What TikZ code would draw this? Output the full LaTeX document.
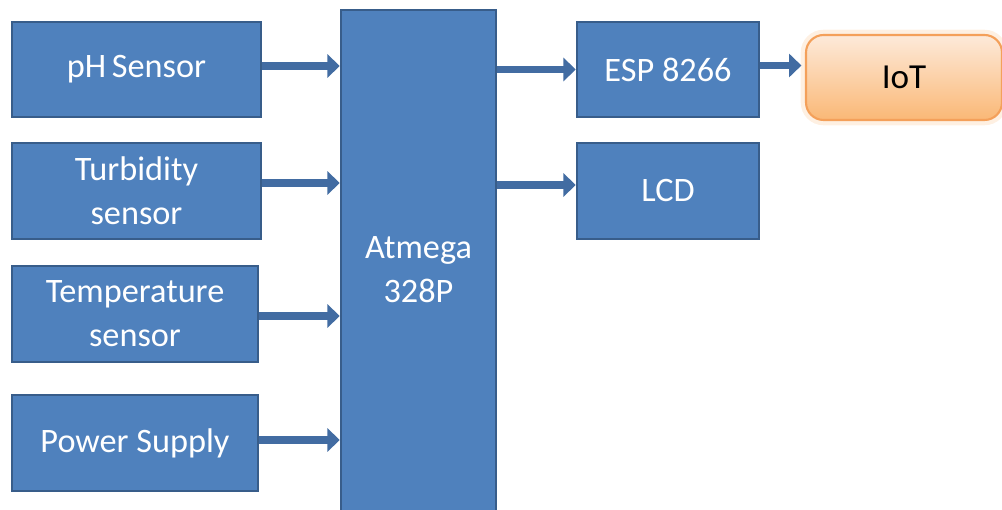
\documentclass[tikz,border=0pt]{standalone}
\usepackage{fontspec}
\setmainfont{Carlito}
\usepackage{tikz}
\usetikzlibrary{arrows.meta,shapes}
\definecolor{boxblue}{RGB}{79,129,189}
\definecolor{boxedge}{RGB}{56,93,138}
\definecolor{arrblue}{RGB}{66,108,162}
\definecolor{iottop}{RGB}{253,234,218}
\definecolor{iotbot}{RGB}{250,184,118}
\definecolor{iotedge}{RGB}{244,160,90}

\begin{document}
\begin{tikzpicture}[>=Stealth,
blk/.style={draw=boxedge,line width=1.4pt,fill=boxblue,text=white,align=center,font=\fontsize{19.5}{23}\selectfont,inner sep=0pt},
arr/.style={arrblue,line width=4.4pt,-{Triangle[length=7pt,width=13pt]}}]
\useasboundingbox (0,0) rectangle (20.04,-10.2);
\node[blk,minimum width=4.98cm,minimum height=1.9cm](ph) at (2.73,-1.39){pH\,Sensor};
\node[blk,minimum width=4.98cm,minimum height=1.92cm](turb) at (2.73,-3.82){Turbidity\\[2pt]sensor};
\node[blk,minimum width=4.92cm,minimum height=1.92cm](temp) at (2.70,-6.28){Temperature\\[2pt]sensor};
\node[blk,minimum width=4.92cm,minimum height=1.92cm](pwr) at (2.70,-8.86){Power Supply};
\node[blk,minimum width=3.1cm,minimum height=10.4cm](atm) at (8.37,-5.4){Atmega\\[2pt]328P};
\node[blk,minimum width=3.64cm,minimum height=1.9cm](esp) at (13.36,-1.39){ESP 8266};
\node[blk,minimum width=3.64cm,minimum height=1.92cm](lcd) at (13.36,-3.82){LCD};
\node[draw=iotedge,line width=1.2pt,rounded corners=10pt,top color=iottop,bottom color=iotbot,
minimum width=3.92cm,minimum height=1.7cm,font=\fontsize{20}{24}\selectfont,
preaction={draw=iotbot!60,line width=6pt,opacity=0.35}](iot) at (18.08,-1.55){IoT};
\draw[arr]([yshift=0.07cm]ph.east)--([yshift=0.07cm]ph.east-|atm.west);
\draw[arr]([yshift=0.16cm]turb.east)--([yshift=0.16cm]turb.east-|atm.west);
\draw[arr]([yshift=-0.04cm]temp.east)--([yshift=-0.04cm]temp.east-|atm.west);
\draw[arr]([yshift=0.06cm]pwr.east)--([yshift=0.06cm]pwr.east-|atm.west);
\draw[arr](atm.east|-esp.west)--(esp.west);
\draw[arr]([yshift=0.12cm]atm.east|-lcd.west)--([yshift=0.12cm]lcd.west);
\draw[arr]([yshift=0.08cm]esp.east)--([yshift=0.08cm,xshift=-2pt]esp.east-|iot.west);
\end{tikzpicture}
\end{document}
